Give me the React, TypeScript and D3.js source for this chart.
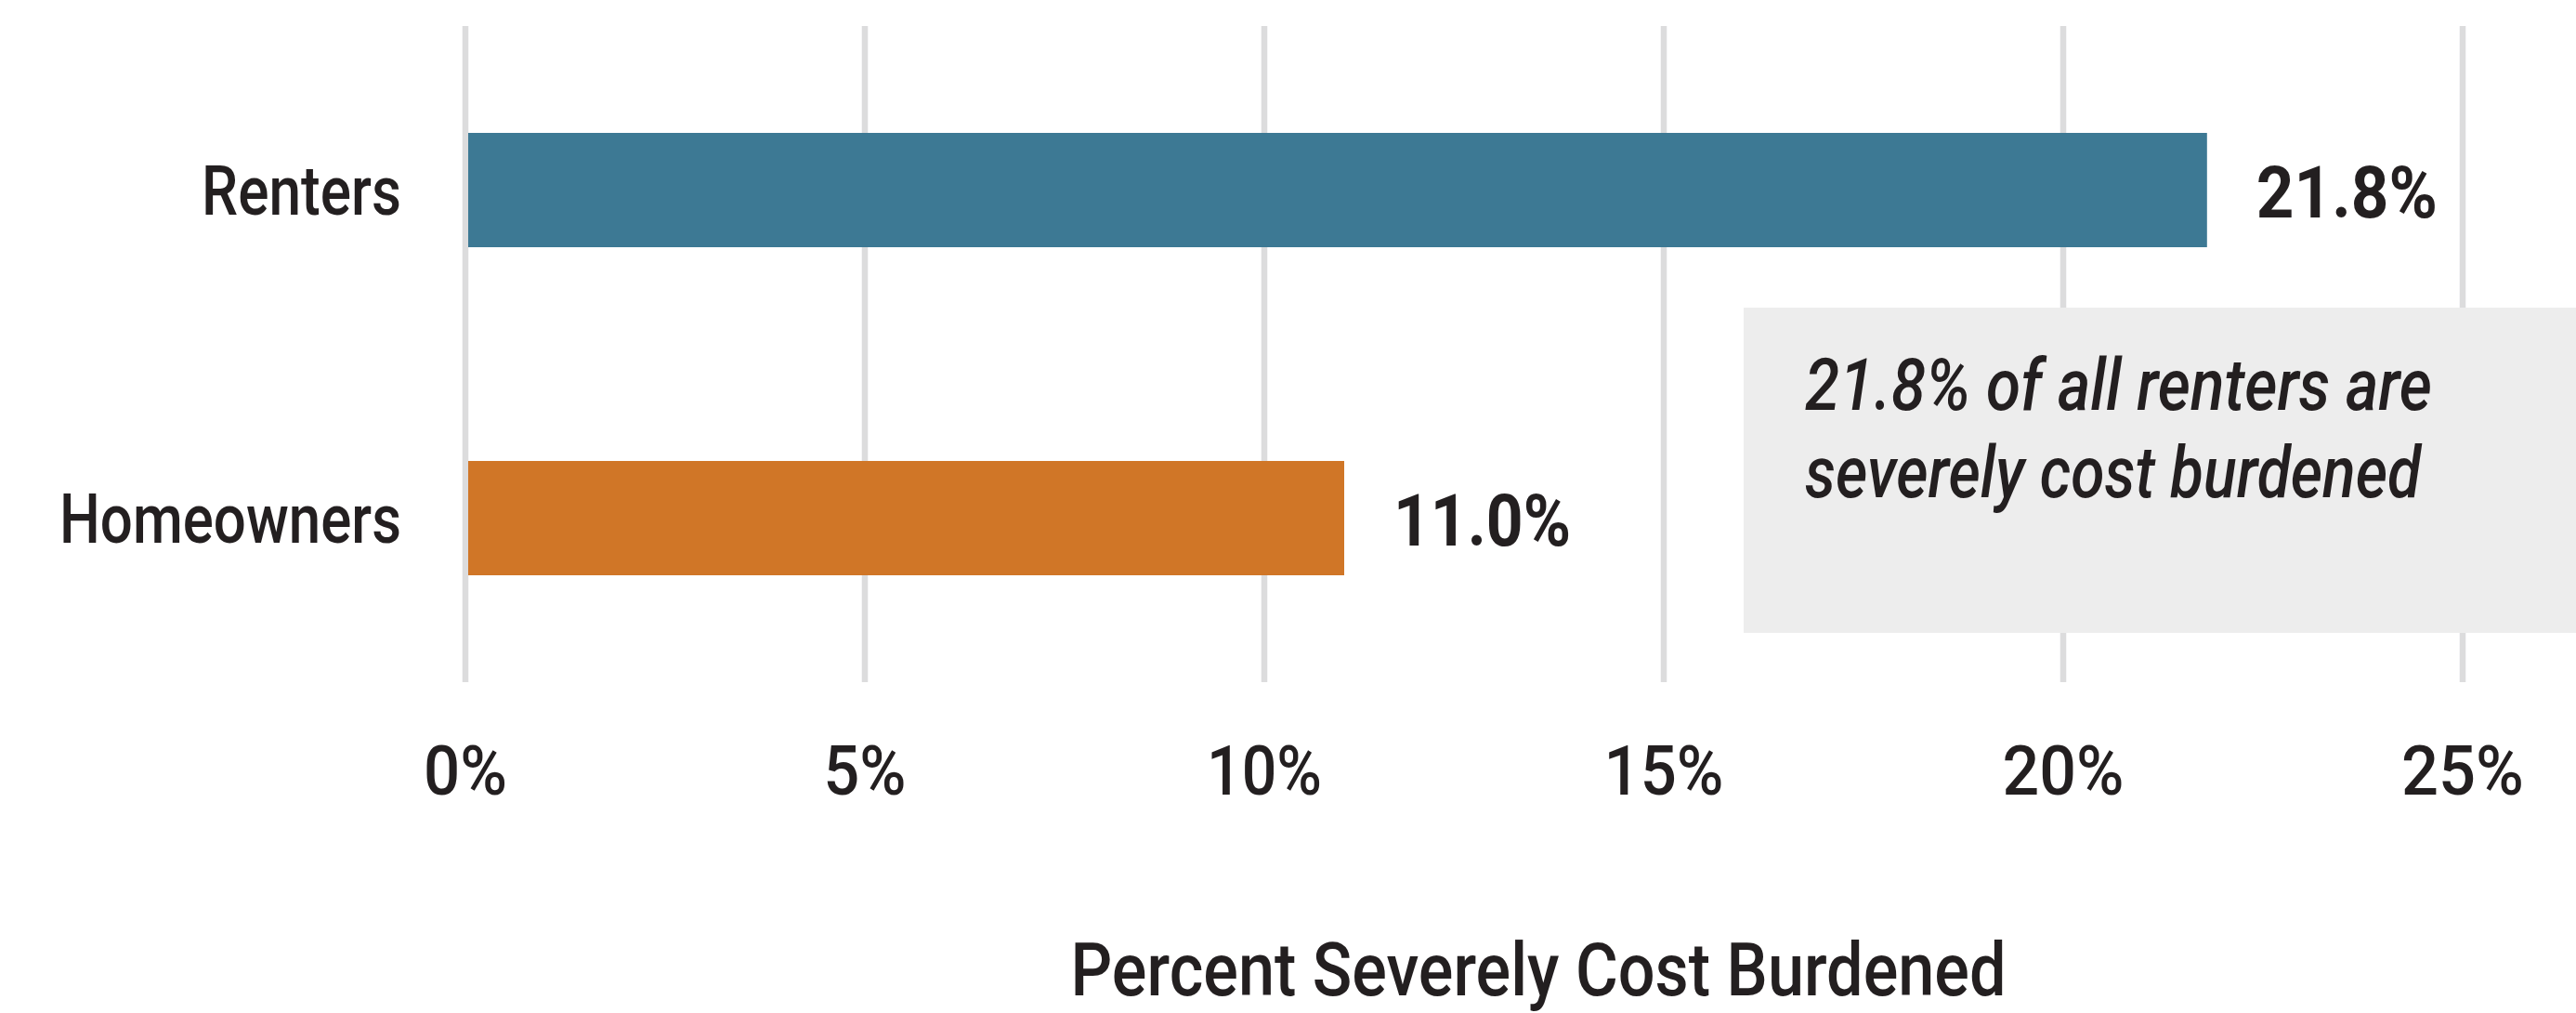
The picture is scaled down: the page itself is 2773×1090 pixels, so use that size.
import React from "react";
import * as d3 from "d3";

const categories = ["Renters", "Homeowners"];
const values = [21.8, 11.0];
const valueLabels = ["21.8%", "11.0%"];
const barColors = ["#3d7994", "#d07627"];
const tickValues = [0, 5, 10, 15, 20, 25];
const tickLabels = ["0%", "5%", "10%", "15%", "20%", "25%"];
const axisTitle = "Percent Severely Cost Burdened";
const noteLines = ["21.8% of all renters are", "severely cost burdened"];

// measured text widths (layout only)
const catWidths: Record<string, number> = { Renters: 215, Homeowners: 368 };
const valWidths: Record<string, number> = { "21.8%": 195, "11.0%": 191 };
const tickWidths: Record<string, number> = { "0%": 90, "5%": 89, "10%": 124, "15%": 129, "20%": 131, "25%": 132 };
const noteWidths = [675, 663];

const W = 2773;
const H = 1090;
const FONT = "Roboto, 'Liberation Sans', Arial, sans-serif";
const INK = "#231f20";

export default function App() {
  const x = d3.scaleLinear().domain([0, 25]).range([501, 2651]);
  const y = d3
    .scaleBand<string>()
    .domain(categories)
    .range([28, 734])
    .paddingInner(0.6516)
    .paddingOuter(0.3258);

  return (
    <svg
      width={W}
      height={H}
      style={{ position: "absolute", left: 0, top: 0, display: "block", background: "#fff" }}
    >
      {/* gridlines */}
      {tickValues.map((t) => (
        <line
          key={"g" + t}
          x1={x(t)}
          x2={x(t)}
          y1={28}
          y2={734}
          stroke="#dcdcdd"
          strokeWidth={6.5}
        />
      ))}

      {/* annotation box */}
      <rect x={1877} y={331} width={W - 1877} height={350} fill="#ededed" />
      {noteLines.map((l, i) => (
        <text
          key={"n" + i}
          x={1943}
          y={441 + i * 94}
          fontFamily={FONT}
          fontStyle="italic"
          fontWeight={500}
          fontSize={77}
          fill={INK}
          textLength={noteWidths[i]}
          lengthAdjust="spacingAndGlyphs"
        >
          {l}
        </text>
      ))}

      {/* bars */}
      {categories.map((c, i) => (
        <rect
          key={"b" + c}
          x={x(0) + 3}
          y={y(c)!}
          width={x(values[i]) - x(0) - 3}
          height={y.bandwidth()}
          fill={barColors[i]}
        />
      ))}

      {/* category labels */}
      {categories.map((c) => (
        <text
          key={"c" + c}
          x={432}
          y={y(c)! + y.bandwidth() / 2 + 26}
          textAnchor="end"
          fontFamily={FONT}
          fontWeight={500}
          fontSize={74}
          fill={INK}
          textLength={catWidths[c]}
          lengthAdjust="spacingAndGlyphs"
        >
          {c}
        </text>
      ))}

      {/* value labels */}
      {categories.map((c, i) => (
        <text
          key={"v" + c}
          x={x(values[i]) + 53}
          y={y(c)! + y.bandwidth() / 2 + 29}
          fontFamily={FONT}
          fontWeight="bold"
          fontSize={78}
          fill={INK}
          textLength={valWidths[valueLabels[i]]}
          lengthAdjust="spacingAndGlyphs"
        >
          {valueLabels[i]}
        </text>
      ))}

      {/* tick labels */}
      {tickValues.map((t, i) => (
        <text
          key={"t" + t}
          x={x(t)}
          y={855}
          textAnchor="middle"
          fontFamily={FONT}
          fontWeight={500}
          fontSize={74}
          fill={INK}
          textLength={tickWidths[tickLabels[i]]}
          lengthAdjust="spacingAndGlyphs"
        >
          {tickLabels[i]}
        </text>
      ))}

      {/* axis title */}
      <text
        x={1656}
        y={1071}
        textAnchor="middle"
        fontFamily={FONT}
        fontWeight={500}
        fontSize={79}
        fill={INK}
        textLength={1007}
        lengthAdjust="spacingAndGlyphs"
      >
        {axisTitle}
      </text>
    </svg>
  );
}
